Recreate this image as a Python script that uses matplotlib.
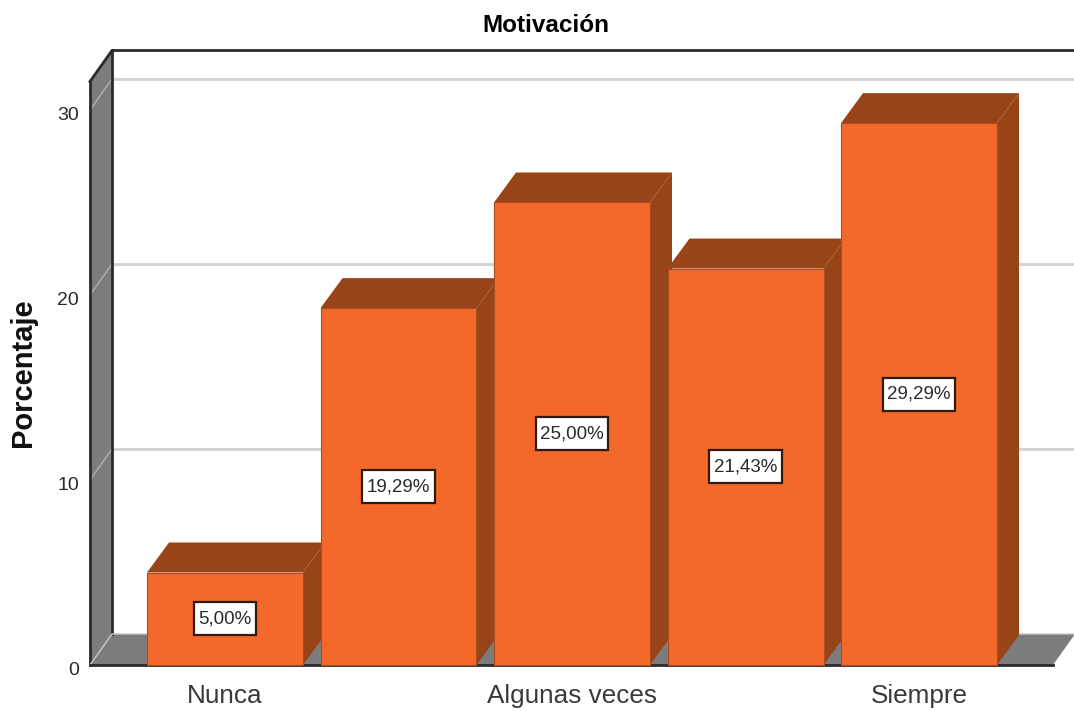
import matplotlib.pyplot as plt
from matplotlib.patches import Polygon, Rectangle
from matplotlib.transforms import ScaledTranslation

plt.rcParams['font.family'] = ['Liberation Sans', 'DejaVu Sans']

categories = ["Nunca", "Casi nunca", "Algunas veces", "Casi siempre", "Siempre"]
percent = [5.00, 19.29, 25.00, 21.43, 29.29]
shown_ticks = [0, 2, 4]
shown_labels = ["Nunca", "Algunas veces", "Siempre"]
y_ticks = [0, 10, 20, 30]

W, H = 1074, 711
PX_X = 173.5   # pixels per category
PX_Y = 18.5    # pixels per percent
DX = 22 / PX_X  # depth of the fake 3d
DY = 31 / PX_Y
BAR_DY = 30 / PX_Y
BAR_W = 156 / PX_X

ORANGE = "#f46829"
BROWN = "#994318"
GREY = "#7c7c7c"
DARK = "#2b2b2b"


def poly(ax, pts, color, z, edge=None, lw=0):
    ax.add_patch(Polygon(pts, closed=True, facecolor=color, edgecolor=edge or color,
                         linewidth=lw, zorder=z, clip_on=False))


fig = plt.figure(figsize=(W / 100, H / 100), dpi=100)
xmin = (90 - 225) / PX_X
xmax = (1053 - 225) / PX_X
ymax = (665 - 81.5) / PX_Y
ax = fig.add_axes([90 / W, (H - 665) / H, (1053 - 90) / W, (665 - 81.5) / H])
ax.set_xlim(xmin, xmax)
ax.set_ylim(0, ymax)
for s in ax.spines.values():
    s.set_visible(False)
ax.patch.set_visible(False)

# floor and left wall
poly(ax, [(xmin, 0), (xmax, 0), (xmax + DX, DY), (xmin + DX, DY)], GREY, 1)
poly(ax, [(xmin, 0), (xmin + DX, DY), (xmin + DX, ymax + DY), (xmin, ymax)], GREY, 1)

# gridlines on the wall and the back plane
for t in y_ticks[1:]:
    ax.plot([xmin + DX, xmax + DX], [t + DY, t + DY], color="#d2d2d2", lw=2,
            zorder=2, clip_on=False, solid_capstyle="butt")
    ax.plot([xmin, xmin + DX], [t, t + DY], color="#a8a8a8", lw=1.2,
            zorder=2, clip_on=False, solid_capstyle="butt")

# frame
ax.plot([xmin, xmin + DX, xmax + DX], [ymax, ymax + DY, ymax + DY], color=DARK, lw=2,
        zorder=3, clip_on=False)
ax.plot([xmin, xmin], [0, ymax], color=DARK, lw=2, zorder=3, clip_on=False)
ax.plot([xmin + DX, xmin + DX], [DY, ymax + DY], color=DARK, lw=2, zorder=3, clip_on=False)
ax.plot([xmin, xmin + DX, xmax + DX], [0, DY, DY], color="#c8c8c8", lw=1, zorder=3, clip_on=False)
ax.plot([xmin, xmax], [0, 0], color=DARK, lw=2, zorder=3, clip_on=False)

# bars, left to right so each one covers the side of the one before
renderer = fig.canvas.get_renderer()
for i, v in enumerate(percent):
    z = 10 + i
    left = i - BAR_W / 2
    right = i + BAR_W / 2
    poly(ax, [(left, v), (right, v), (right + DX, v + BAR_DY), (left + DX, v + BAR_DY)], BROWN, z)
    poly(ax, [(right, 0), (right + DX, BAR_DY), (right + DX, v + BAR_DY), (right, v)], BROWN, z)
    ax.add_patch(Rectangle((left, 0), BAR_W, v, facecolor=ORANGE, edgecolor="#a8501f",
                           linewidth=0.8, zorder=z + 0.5, clip_on=False))
    t = ax.text(i, v / 2, f"{v:.2f}%".replace(".", ","), ha="center", va="center",
                fontsize=13.5, color="#2a2a2a", zorder=30)
    # the label box is taller than the text, wider padding on top and bottom
    half_w = (t.get_window_extent(renderer).width / 2 + 4.5) / PX_X
    half_h = 16.5 / PX_Y
    ax.add_patch(Rectangle((i - half_w, v / 2 - half_h), 2 * half_w, 2 * half_h, facecolor="white",
                           edgecolor="#301a10", linewidth=1.6, zorder=29, clip_on=False))

ax.set_xticks(shown_ticks, shown_labels, fontsize=18.8, color="#3a3a3a")
ax.set_yticks(y_ticks, [str(t) for t in y_ticks], fontsize=14, color="#2a2a2a")
ax.tick_params(axis="x", length=0, pad=14)
ax.tick_params(axis="y", length=0, pad=8)
for lab in ax.get_yticklabels():
    lab.set_transform(lab.get_transform() + ScaledTranslation(0, -2.5 / 72, fig.dpi_scale_trans))

fig.text(546 / W, 1 - 26 / H, "Motivación", ha="center", va="center",
         fontsize=17.5, fontweight="bold", color="black")
fig.text(23 / W, 1 - 373 / H, "Porcentaje", ha="center", va="center", rotation=90,
         fontsize=21, fontweight="bold", color="#111111")

fig.savefig("out.png", dpi=100)
